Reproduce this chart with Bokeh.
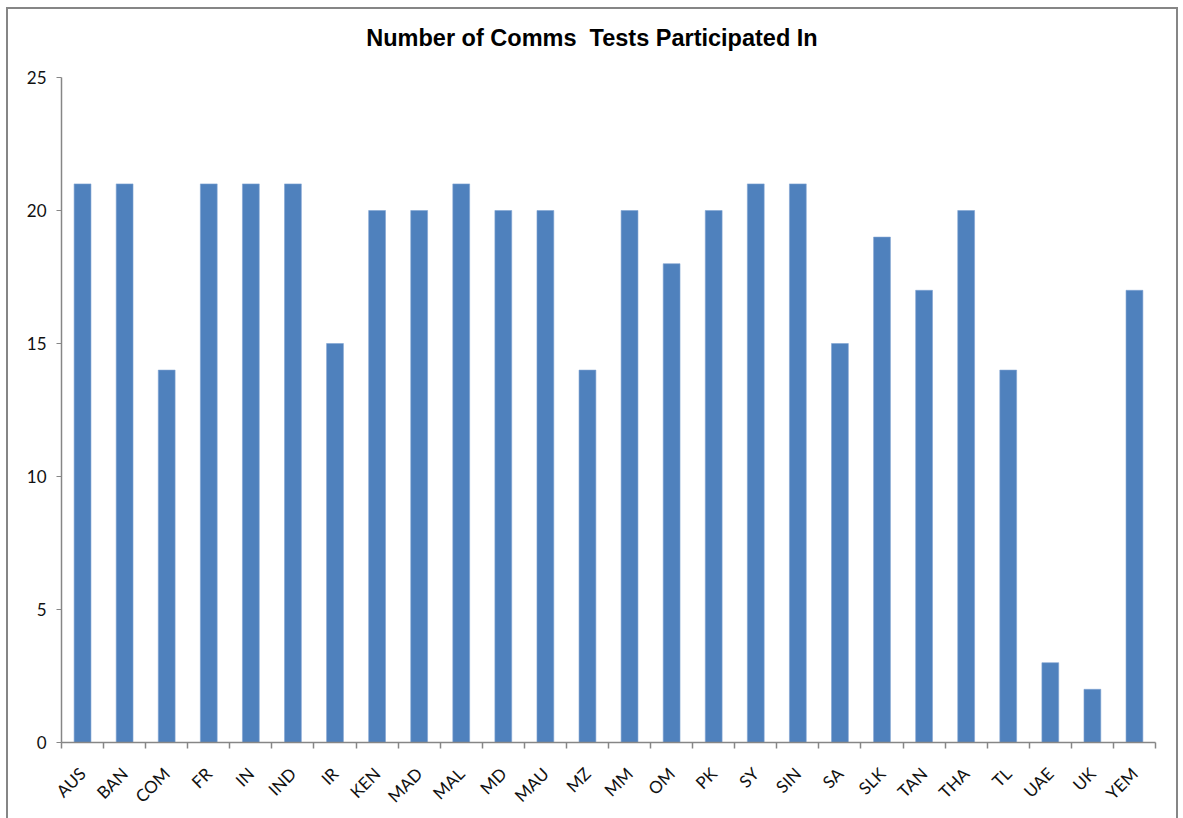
from math import pi
from bokeh.plotting import figure
from bokeh.layouts import column
from bokeh.models import FixedTicker, LinearAxis, Range1d, ColumnDataSource, Div
from bokeh.embed import file_html
from bokeh.resources import INLINE

countries = ["AUS", "BAN", "COM", "FR", "IN", "IND", "IR", "KEN", "MAD", "MAL",
             "MD", "MAU", "MZ", "MM", "OM", "PK", "SY", "SIN", "SA", "SLK",
             "TAN", "THA", "TL", "UAE", "UK", "YEM"]
tests = [21, 21, 14, 21, 21, 21, 15, 20, 20, 21,
         20, 20, 14, 20, 18, 20, 21, 21, 15, 19,
         17, 20, 14, 3, 2, 17]
y_ticks = [0, 5, 10, 15, 20, 25]
title_text = "Number of Comms  Tests Participated In"

n = len(countries)
centers = [i + 0.5 for i in range(n)]
src = ColumnDataSource(dict(x=centers, top=tests, name=countries))

FONT = "Lato"
GRAY = "#868686"
W = 1168

title_div = Div(text=title_text, width=W, height=58, margin=0,
                styles={"text-align": "center", "font-family": "'Liberation Sans', Arial, sans-serif",
                        "font-weight": "bold", "font-size": "23.5px", "line-height": "58px",
                        "white-space": "pre", "color": "black"})

p = figure(width=W, height=751, output_backend="svg", toolbar_location=None,
           x_range=Range1d(0, n), y_range=Range1d(0, 25),
           x_axis_type=None, y_axis_type=None, margin=0,
           min_border_left=53, min_border_right=21, min_border_top=10, min_border_bottom=76)
p.outline_line_color = None
p.background_fill_color = "white"

p.vbar(x="x", top="top", width=0.4, source=src, fill_color="#4F81BD",
       line_color="#7FA3D1", line_width=0.6)

yaxis = LinearAxis(ticker=FixedTicker(ticks=y_ticks))
yaxis.axis_line_color = GRAY
yaxis.axis_line_width = 1.5
yaxis.major_tick_line_color = GRAY
yaxis.major_tick_out = 5
yaxis.major_tick_in = 0
yaxis.minor_tick_line_color = None
yaxis.major_label_text_font = FONT
yaxis.major_label_text_font_size = "17px"
yaxis.major_label_text_color = "#111111"
yaxis.major_label_standoff = 10
p.add_layout(yaxis, "left")

xaxis = LinearAxis(ticker=FixedTicker(ticks=centers, minor_ticks=list(range(n + 1))))
xaxis.major_label_overrides = {c: name for c, name in zip(centers, countries)}
xaxis.axis_line_color = GRAY
xaxis.axis_line_width = 1.5
xaxis.major_tick_line_color = None
xaxis.minor_tick_line_color = GRAY
xaxis.minor_tick_line_width = 1.5
xaxis.minor_tick_out = 6
xaxis.minor_tick_in = 0
xaxis.major_label_orientation = pi / 4
xaxis.major_label_text_font = FONT
xaxis.major_label_text_font_size = "17px"
xaxis.major_label_text_color = "#111111"
xaxis.major_label_standoff = 22
p.add_layout(xaxis, "below")

p.xgrid.visible = False
p.ygrid.ticker = FixedTicker(ticks=y_ticks)
p.ygrid.grid_line_color = GRAY
p.ygrid.grid_line_width = 1.5

layout = column(title_div, p, spacing=0, margin=(7, 0, 0, 6),
                styles={"border-left": f"2px solid {GRAY}", "border-top": f"2px solid {GRAY}",
                        "border-right": f"2px solid {GRAY}", "background": "white"})

open("out.html", "w").write(file_html(layout, INLINE))
